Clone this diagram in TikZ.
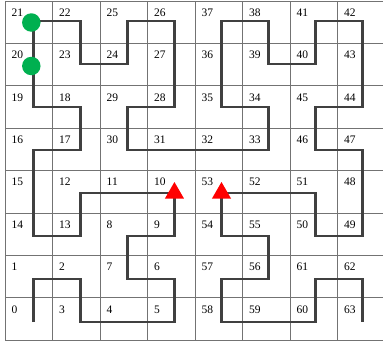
\documentclass[tikz,border=0pt]{standalone}
\usepackage{fontspec}
\setmainfont{Liberation Serif}
\usetikzlibrary{shapes.geometric, positioning}
\definecolor{startgreen}{RGB}{0,176,80}

\begin{document}
\begin{tikzpicture}[
    x = 1pt, y = -1pt,
    gridline/.style = {draw=black!55, line width=0.7pt},
    num/.style = {anchor=north west, inner sep=0pt, font=\fontsize{11.5}{12}\selectfont},
    route/.style = {draw=black!75, line width=2.6pt, line join=miter},
    dot/.style = {circle, fill=startgreen, minimum size=18.5pt, inner sep=0pt},
    flag/.style = {regular polygon, regular polygon sides=3, fill=red, minimum size=22pt, inner sep=0pt}
]
    \useasboundingbox (0,0) rectangle (383,343);

    % 1. Grid (8 x 8 cells)
    \foreach \i in {0,...,8} {
        \draw [gridline] (5+47.5*\i, 1) -- (5+47.5*\i, 340.2);
        \draw [gridline] (5, 1+42.4*\i) -- (385, 1+42.4*\i);
    }

    % 2. Cell numbers and route points, in curve order
    \foreach \c/\r [count=\n from 0] in {0/7, 0/6, 1/6, 1/7, 2/7, 3/7, 3/6, 2/6,
                                          2/5, 3/5, 3/4, 2/4, 1/4, 1/5, 0/5, 0/4,
                                          0/3, 1/3, 1/2, 0/2, 0/1, 0/0, 1/0, 1/1,
                                          2/1, 2/0, 3/0, 3/1, 3/2, 2/2, 2/3, 3/3,
                                          4/3, 5/3, 5/2, 4/2, 4/1, 4/0, 5/0, 5/1,
                                          6/1, 6/0, 7/0, 7/1, 7/2, 6/2, 6/3, 7/3,
                                          7/4, 7/5, 6/5, 6/4, 5/4, 4/4, 4/5, 5/5,
                                          5/6, 4/6, 4/7, 5/7, 6/7, 6/6, 7/6, 7/7} {
        \node [num] (n\n) at (11.5+47.5*\c, 8.5+42.4*\r) {\n};
        \coordinate (p\n) at (33.3+47.05*\c, 21+43*\r);
    }

    % 3. Route through all cells
    \draw [route] (p0) \foreach \n in {1,...,63} { -- (p\n) };

    % 4. Start points and targets
    \node [dot, xshift=-2pt, yshift=-1.5pt] (s21) at (p21) {};
    \node [dot, xshift=-2pt, yshift=-2pt] (s20) at (p20) {};
    \node [flag] (t10) at (p10) {};
    \node [flag] (t53) at (p53) {};
\end{tikzpicture}
\end{document}
